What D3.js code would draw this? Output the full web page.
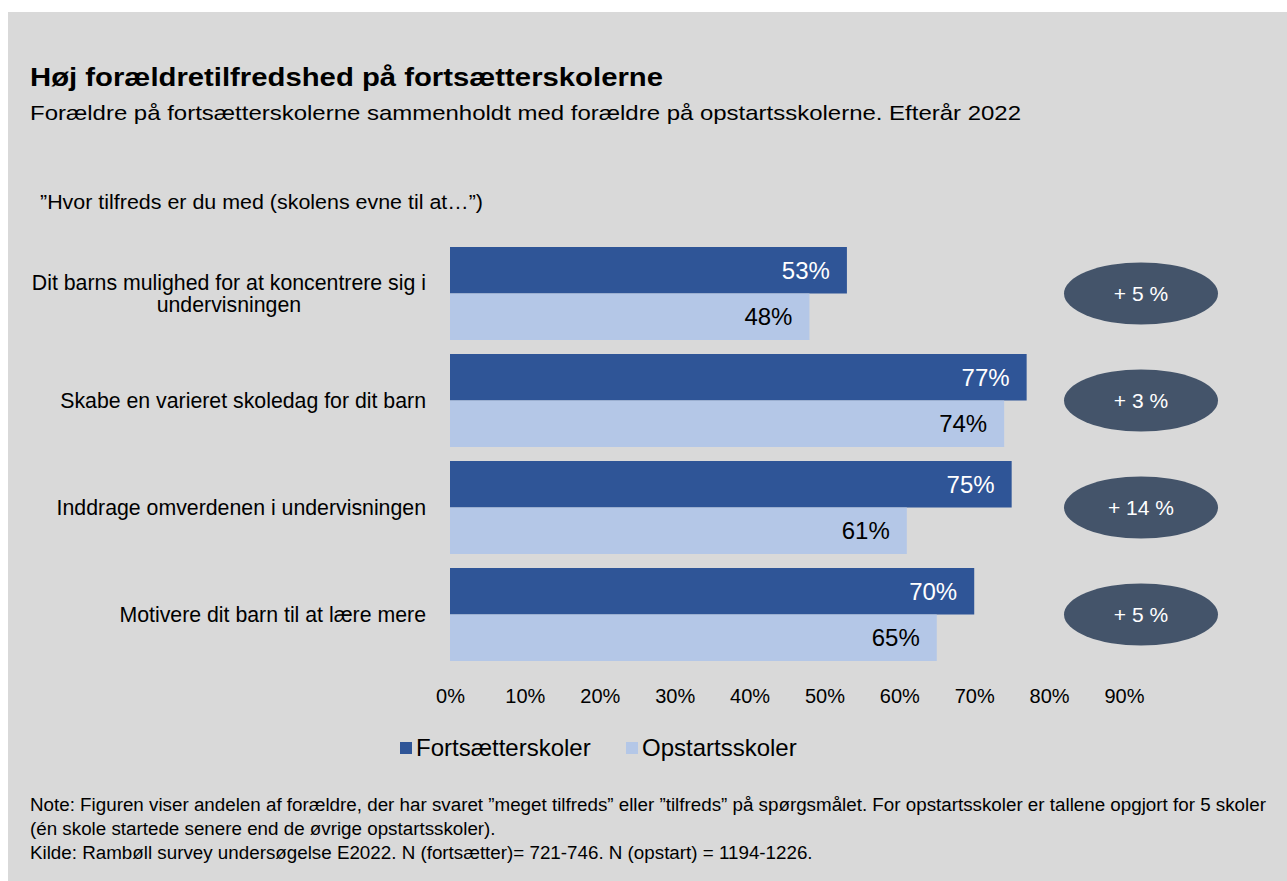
<!DOCTYPE html>
<html>
<head>
<meta charset="utf-8">
<script src="https://cdn.jsdelivr.net/npm/d3@7"></script>
<style>
  html, body { margin: 0; padding: 0; background: #ffffff; }
  svg { display: block; font-family: "Liberation Sans", Arial, sans-serif; }
</style>
</head>
<body>
<svg id="chart" width="1287" height="881"></svg>
<script>
// ---- Data ----
const categories = [
  ["Dit barns mulighed for at koncentrere sig i", "undervisningen"],
  ["Skabe en varieret skoledag for dit barn"],
  ["Inddrage omverdenen i undervisningen"],
  ["Motivere dit barn til at lære mere"]
];
const seriesNames = ["Fortsætterskoler", "Opstartsskoler"];
const fortsaetter = [0.53, 0.77, 0.75, 0.70];
const opstart = [0.48, 0.74, 0.61, 0.65];
const diffLabels = ["+ 5 %", "+ 3 %", "+ 14 %", "+ 5 %"];
const tickValues = [0, 0.1, 0.2, 0.3, 0.4, 0.5, 0.6, 0.7, 0.8, 0.9];
const titleText = "Høj forældretilfredshed på fortsætterskolerne";
const subtitleText = "Forældre på fortsætterskolerne sammenholdt med forældre på opstartsskolerne. Efterår 2022";
const questionText = "”Hvor tilfreds er du med (skolens evne til at…”)";
const noteLines = [
  "Note: Figuren viser andelen af forældre, der har svaret ”meget tilfreds” eller ”tilfreds” på spørgsmålet. For opstartsskoler er tallene opgjort for 5 skoler",
  "(én skole startede senere end de øvrige opstartsskoler).",
  "Kilde: Rambøll survey undersøgelse E2022. N (fortsætter)= 721-746. N (opstart) = 1194-1226."
];

// ---- Styles ----
const colors = ["#2f5597", "#b4c7e7"];
const labelColors = ["#ffffff", "#000000"];

const svg = d3.select("#chart");
svg.append("rect").attr("x", 8).attr("y", 12).attr("width", 1287 - 8).attr("height", 881 - 12).attr("fill", "#d9d9d9");

// Titles
svg.append("text").attr("x", 30).attr("y", 86).attr("font-size", 25).attr("font-weight", "bold").attr("fill", "#000")
  .attr("textLength", 633).attr("lengthAdjust", "spacingAndGlyphs").text(titleText);
svg.append("text").attr("x", 30).attr("y", 120).attr("font-size", 21).attr("fill", "#000")
  .attr("textLength", 991).attr("lengthAdjust", "spacingAndGlyphs").text(subtitleText);
svg.append("text").attr("x", 40).attr("y", 209).attr("font-size", 20.5).attr("fill", "#000")
  .attr("textLength", 443).attr("lengthAdjust", "spacingAndGlyphs").text(questionText);

// Scales
const x = d3.scaleLinear().domain([0, 0.9]).range([450, 1124]);
const idx = categories.map((d, i) => i);
const y = d3.scaleBand().domain(idx).range([240, 668]).paddingInner(0.131).paddingOuter(0.0655);
const ySub = d3.scaleBand().domain([0, 1]).range([0, y.bandwidth()]);

const rows = idx.map(i => ({ i, vals: [fortsaetter[i], opstart[i]] }));

const g = svg.append("g");
const groups = g.selectAll("g.grp").data(rows).join("g").attr("class", "grp")
  .attr("transform", d => `translate(0,${y(d.i)})`);

groups.selectAll("rect").data(d => d.vals.map((v, s) => ({ v, s }))).join("rect")
  .attr("x", x(0))
  .attr("y", d => ySub(d.s))
  .attr("width", d => x(d.v) - x(0))
  .attr("height", ySub.bandwidth())
  .attr("fill", d => colors[d.s]);

groups.selectAll("text.val").data(d => d.vals.map((v, s) => ({ v, s }))).join("text")
  .attr("class", "val")
  .attr("x", d => x(d.v) - 17)
  .attr("y", d => ySub(d.s) + ySub.bandwidth() / 2)
  .attr("dy", "0.36em")
  .attr("text-anchor", "end")
  .attr("font-size", 24)
  .attr("fill", d => labelColors[d.s])
  .text(d => d3.format(".0%")(d.v));

// Category labels (right aligned block, lines centered within block)
const catRight = 426;
const catFont = 21.3;
const lineH = 22;
rows.forEach(r => {
  const lines = categories[r.i];
  const cy = y(r.i) + y.bandwidth() / 2;
  const t = svg.append("text").attr("font-size", catFont).attr("fill", "#000");
  const spans = lines.map((ln, k) => t.append("tspan").text(ln)
    .attr("y", cy + (k - (lines.length - 1) / 2) * lineH).attr("dy", "0.36em"));
  const widths = spans.map(s => s.node().getComputedTextLength());
  const maxW = d3.max(widths);
  const center = catRight - maxW / 2;
  spans.forEach(s => s.attr("x", center).attr("text-anchor", "middle"));
});

// X axis (labels only)
const axis = d3.axisBottom(x).tickValues(tickValues).tickFormat(d3.format(".0%")).tickSize(0).tickPadding(0);
const ax = svg.append("g").attr("transform", "translate(0,689)").call(axis);
ax.select(".domain").remove();
ax.selectAll("text").attr("font-size", 20).attr("fill", "#000").attr("dy", "0.71em")
  .attr("font-family", "'Liberation Sans', Arial, sans-serif");

// Difference ellipses
const ell = svg.append("g");
rows.forEach(r => {
  const cy = y(r.i) + y.bandwidth() / 2;
  ell.append("ellipse").attr("cx", x.range()[1] + 17).attr("cy", cy).attr("rx", 77).attr("ry", 31).attr("fill", "#44546a");
  ell.append("text").attr("x", x.range()[1] + 17).attr("y", cy).attr("dy", "0.36em")
    .attr("text-anchor", "middle").attr("font-size", 21).attr("fill", "#fff").text(diffLabels[r.i]);
});

// Legend
const legX = [400, 626];
seriesNames.forEach((nm, s) => {
  svg.append("rect").attr("x", legX[s]).attr("y", 742).attr("width", 12).attr("height", 12).attr("fill", colors[s]);
  svg.append("text").attr("x", legX[s] + 16).attr("y", 756).attr("font-size", 24).attr("fill", "#000").text(nm);
});

// Notes
noteLines.forEach((ln, k) => {
  svg.append("text").attr("x", 30).attr("y", 811 + k * 24).attr("font-size", 18.8).attr("fill", "#000").text(ln);
});
</script>
</body>
</html>
